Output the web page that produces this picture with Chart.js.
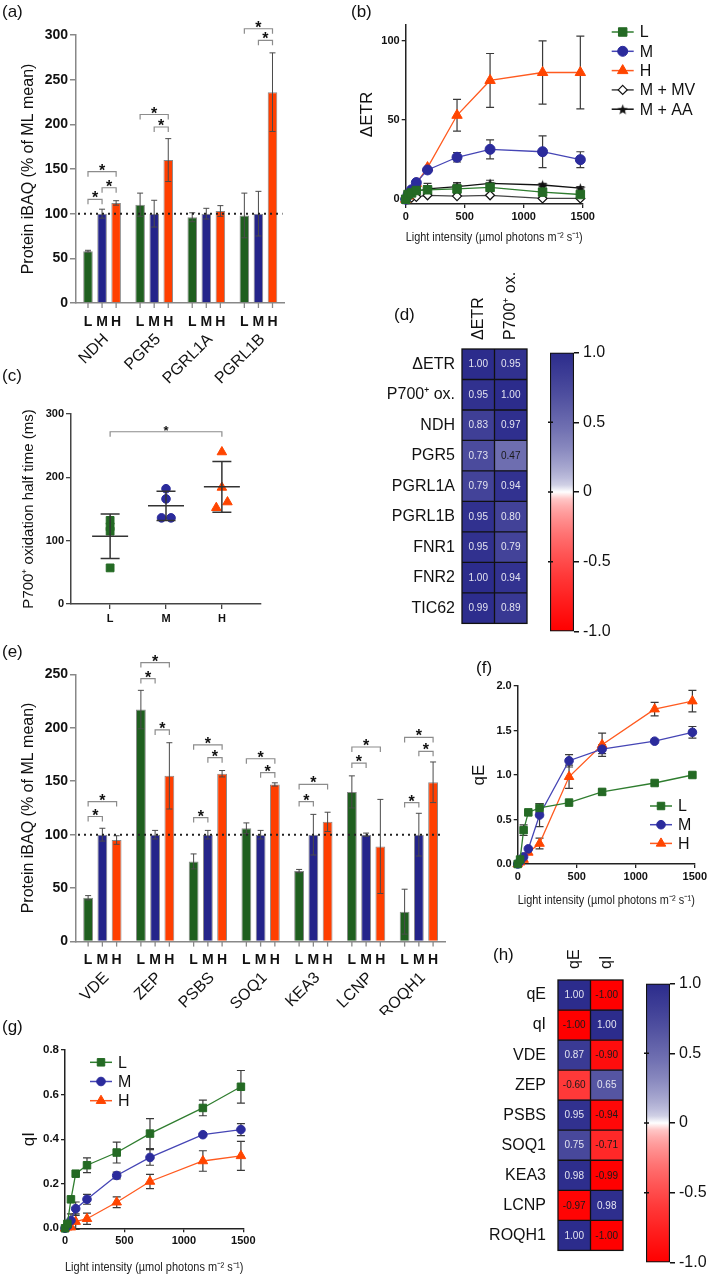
<!DOCTYPE html>
<html>
<head>
<meta charset="utf-8">
<title>Light acclimation panels</title>
<script src="https://cdn.jsdelivr.net/npm/chart.js@4.4.1/dist/chart.umd.min.js"></script>
<style>
  body { margin:0; background:#fff; }
  #page { position:relative; width:709px; height:1277px; overflow:hidden; font-family:'Liberation Sans', Arial, sans-serif; color:#111; }
  canvas { position:absolute; }
  .tag { position:absolute; font-size:17px; line-height:1; }
</style>
</head>
<body>
<div id="page">
  <canvas id="cA" width="300" height="390" style="left:0;top:10px"></canvas>
  <canvas id="cB" width="354" height="250" style="left:355px;top:0"></canvas>
  <canvas id="cC" width="300" height="240" style="left:0;top:395px"></canvas>
  <canvas id="cD" width="180" height="390" style="left:355px;top:250px"></canvas>
  <canvas id="cDbar" width="100" height="306" style="left:540px;top:339px"></canvas>
  <canvas id="cE" width="460" height="375" style="left:0;top:640px"></canvas>
  <canvas id="cF" width="249" height="250" style="left:460px;top:670px"></canvas>
  <canvas id="cG" width="260" height="247" style="left:0;top:1030px"></canvas>
  <canvas id="cH" width="195" height="347" style="left:440px;top:925px"></canvas>
  <canvas id="cHbar" width="73" height="306" style="left:636px;top:970px"></canvas>
  <div class="tag" style="left:2px;top:3px">(a)</div>
  <div class="tag" style="left:351px;top:3px">(b)</div>
  <div class="tag" style="left:2px;top:367px">(c)</div>
  <div class="tag" style="left:394px;top:306px">(d)</div>
  <div class="tag" style="left:2px;top:643px">(e)</div>
  <div class="tag" style="left:476px;top:659px">(f)</div>
  <div class="tag" style="left:2px;top:1018px">(g)</div>
  <div class="tag" style="left:493px;top:946px">(h)</div>
</div>
<script>
// ---- data ----
var seriesNames = ["L", "M", "H"];

// (a) protein abundance, cyclic electron flow
var groupsA = ["NDH", "PGR5", "PGRL1A", "PGRL1B"];
var aL = [58, 110, 96, 98],    aLerr = [1, 13, 5, 25];
var aM = [100, 100, 100, 100], aMerr = [5, 15, 6, 25];
var aH = [112, 160, 103, 236], aHerr = [2.5, 24, 6, 44];
// [group, from series, to series, height]
var sigA = [[0,0,1,116],[0,1,2,129],[0,0,2,147],[1,1,2,197],[1,0,2,211],[3,1,2,294],[3,0,2,307]];

// (e) protein abundance, photoprotection
var groupsE = ["VDE", "ZEP", "PSBS", "SOQ1", "KEA3", "LCNP", "ROQH1"];
var eL = [41, 217, 75, 106, 66, 140, 28],       eLerr = [2, 18, 7, 5, 1.5, 15, 21];
var eM = [100, 100, 100, 100, 100, 100, 100],   eMerr = [6, 4, 4, 4, 19, 1.5, 20];
var eH = [95, 155, 157, 147, 112, 89, 149],     eHerr = [4, 31, 3, 1.5, 9, 44, 19];
var sigE = [[0,0,1,117],[0,0,2,131],[1,1,2,198],[1,0,1,246],[1,0,2,261],[2,0,1,116],[2,1,2,172],
            [2,0,2,184],[3,1,2,158],[3,0,2,171],[4,0,1,131],[4,0,2,147],[5,0,1,167],[5,0,2,182],
            [6,0,1,130],[6,1,2,178],[6,0,2,191]];

// light steps (µmol photons m-2 s-1)
var lightX = [0, 20, 50, 90, 185, 435, 715, 1160, 1480];

// (b) delta ETR
var bL  = [0, 3, 4, 5.5, 6, 6.5, 7.5, 4.5, 3],      bLerr  = [0, 0, 0, 1, 2.5, 3, 2.5, 2, 1.5];
var bM  = [0, 3, 6, 10.5, 18.5, 26.5, 31.5, 30, 25], bMerr  = [0, 0, 0, 0, 0, 3, 6, 10, 5];
var bH  = [0, 2, 5, 10, 20, 53, 75, 80, 80],          bHerr  = [0, 0, 0, 0, 0, 10, 17, 20, 23];
var bMV = [0, 0.5, 1, 1.5, 2.5, 2, 2.5, 0.5, 0.5];
var bAA = [0, 2, 4, 5, 6.5, 8, 10, 9, 7],             bAAerr = [0, 0, 0, 0, 3.5, 2.5, 2, 1, 1];

// (c) P700+ oxidation half time (ms)
var cCats = ["L", "M", "H"];
var cL = [132, 122, 115, 57], cM = [182, 166, 136, 136], cH = [240, 184, 152, 161];
var cJit = [[0, 0, 0, 0], [0, 0, -0.08, 0.09], [0, 0, -0.1, 0.1]];
var cMean = [107, 155, 185], cSd = [35, 23, 40];

// (d) correlations
var dRows = ["\u0394ETR", "P700\u207A ox.", "NDH", "PGR5", "PGRL1A", "PGRL1B", "FNR1", "FNR2", "TIC62"];
var dCols = ["\u0394ETR", "P700\u207A ox."];
var dVals = [[1.00,0.95],[0.95,1.00],[0.83,0.97],[0.73,0.47],[0.79,0.94],[0.95,0.80],[0.95,0.79],[1.00,0.94],[0.99,0.89]];

// (f) qE
var fL = [0, 0.05, 0.38, 0.58, 0.63, 0.69, 0.81, 0.91, 1.00], fLerr = [0, 0, 0.06, 0, 0.05, 0, 0.03, 0, 0];
var fM = [0, 0.03, 0.08, 0.17, 0.55, 1.16, 1.29, 1.38, 1.48], fMerr = [0, 0, 0, 0, 0.13, 0.07, 0.05, 0, 0.065];
var fH = [0, 0.02, 0.05, 0.13, 0.23, 0.98, 1.34, 1.74, 1.83], fHerr = [0, 0, 0, 0, 0.06, 0.13, 0.13, 0.075, 0.12];

// (g) qI
var gL = [0, 0.02, 0.13, 0.245, 0.283, 0.34, 0.425, 0.54, 0.635], gLerr = [0, 0, 0, 0, 0.033, 0.047, 0.067, 0.035, 0.073];
var gM = [0, 0.01, 0.035, 0.088, 0.13, 0.237, 0.318, 0.42, 0.443], gMerr = [0, 0, 0.03, 0.03, 0.022, 0.015, 0.035, 0, 0.027];
var gH = [0, 0.005, 0.005, 0.03, 0.043, 0.117, 0.21, 0.302, 0.325], gHerr = [0, 0, 0, 0.035, 0.025, 0.024, 0.032, 0.046, 0.065];

// (h) correlations
var hRows = ["qE", "qI", "VDE", "ZEP", "PSBS", "SOQ1", "KEA3", "LCNP", "ROQH1"];
var hCols = ["qE", "qI"];
var hVals = [[1.00,-1.00],[-1.00,1.00],[0.87,-0.90],[-0.60,0.65],[0.95,-0.94],[0.75,-0.71],[0.98,-0.99],[-0.97,0.98],[1.00,-1.00]];

var barTicks = [-1, -0.5, 0, 0.5, 1];

// ---- styling ----
var FONT = "'Liberation Sans', Arial, sans-serif";
Chart.defaults.font.family = FONT;
Chart.defaults.color = '#111';
Chart.defaults.animation = false;

var barColors = ["#1f5f1f", "#24248a", "#ff3f00"];
var ptColors  = ["#246a24", "#2b2b9c", "#ff4500"];
var lnColors  = ["#2f7d2f", "#4545b5", "#ff5a1f"];
var LIGHT_TITLE = "Light intensity (\u00B5mol photons m\u207B\u00B2 s\u207B\u00B9)";
var NAVY = [44, 44, 140], RED = [255, 0, 0];

function heatColor(v) {
  var t = Math.pow(Math.min(1, Math.abs(v)), 0.5), c = v >= 0 ? NAVY : RED;
  return 'rgb(' + [0, 1, 2].map(function (k) { return Math.round(255 + (c[k] - 255) * t); }).join(',') + ')';
}
function fixW(w) { return function (s) { s.width = w; }; }
function fixH(h) { return function (s) { s.height = h; }; }
function setTicks(vals) { return function (s) { s.ticks = vals.map(function (v) { return { value: v }; }); }; }
function plain(v) { return String(v); }

function starImg(size, color) {
  var c = document.createElement('canvas');
  c.width = c.height = size;
  var x = c.getContext('2d');
  x.fillStyle = color;
  x.beginPath();
  for (var i = 0; i < 10; i++) {
    var r = i % 2 ? size * 0.21 : size * 0.5, a = -Math.PI / 2 + i * Math.PI / 5;
    x.lineTo(size / 2 + r * Math.cos(a), size / 2 + 0.6 + r * Math.sin(a));
  }
  x.closePath();
  x.fill();
  return c;
}

function drawMarker(ctx, ds, x, y) {
  var st = ds.pointStyle, r = ds.pointRadius;
  if (st instanceof HTMLCanvasElement) { ctx.drawImage(st, x - st.width / 2, y - st.height / 2); return; }
  ctx.fillStyle = ds.pointBackgroundColor;
  ctx.strokeStyle = ds.pointBorderColor;
  ctx.lineWidth = ds.pointBorderWidth || 1;
  ctx.beginPath();
  if (st === 'rect') { var s = r * Math.SQRT1_2; ctx.rect(x - s, y - s, 2 * s, 2 * s); }
  else if (st === 'rectRot') { ctx.moveTo(x, y - r); ctx.lineTo(x + r, y); ctx.lineTo(x, y + r); ctx.lineTo(x - r, y); ctx.closePath(); }
  else if (st === 'triangle') {
    for (var k = 0; k < 3; k++) { var a = -Math.PI / 2 + k * 2 * Math.PI / 3; ctx.lineTo(x + r * Math.cos(a), y + r * Math.sin(a)); }
    ctx.closePath();
  }
  else ctx.arc(x, y, r, 0, 2 * Math.PI);
  ctx.fill();
  ctx.stroke();
}

function drawStar(ctx, x, y, size) {
  ctx.fillStyle = '#111';
  ctx.font = 'bold ' + size + 'px ' + FONT;
  ctx.textAlign = 'center';
  ctx.textBaseline = 'alphabetic';
  ctx.fillText('*', x, y);
}

// ---- bar panels (a), (e) ----
function barExtras(errs, sigs) {
  return {
    id: 'barExtras',
    afterDatasetsDraw: function (chart) {
      var ctx = chart.ctx, ys = chart.scales.y, area = chart.chartArea;
      ctx.save();
      chart.data.datasets.forEach(function (ds, s) {
        chart.getDatasetMeta(s).data.forEach(function (bar, i) {
          var v = ds.data[i], e = errs[s][i], x = bar.x;
          var y1 = ys.getPixelForValue(v + e), y2 = ys.getPixelForValue(v - e);
          ctx.strokeStyle = '#4a4a4a';
          ctx.lineWidth = 1;
          ctx.beginPath();
          ctx.moveTo(x, y1); ctx.lineTo(x, y2);
          ctx.moveTo(x - 3, y1); ctx.lineTo(x + 3, y1);
          ctx.moveTo(x - 3, y2); ctx.lineTo(x + 3, y2);
          ctx.stroke();
          // tick + series letter under every bar
          ctx.strokeStyle = '#888';
          ctx.lineWidth = 1.3;
          ctx.beginPath(); ctx.moveTo(x, area.bottom); ctx.lineTo(x, area.bottom + 5); ctx.stroke();
          ctx.fillStyle = '#111';
          ctx.font = 'bold 14px ' + FONT;
          ctx.textAlign = 'center';
          ctx.textBaseline = 'middle';
          ctx.fillText(ds.label, x, area.bottom + 19);
        });
      });
      // dotted 100 % line
      var y100 = ys.getPixelForValue(100);
      ctx.strokeStyle = '#222';
      ctx.lineWidth = 2;
      ctx.setLineDash([2, 4]);
      ctx.beginPath(); ctx.moveTo(area.left + 2, y100); ctx.lineTo(area.right - 2, y100); ctx.stroke();
      ctx.setLineDash([]);
      // significance brackets
      sigs.forEach(function (s) {
        var m = chart.getDatasetMeta(s[1]).data[s[0]], n = chart.getDatasetMeta(s[2]).data[s[0]];
        var yy = ys.getPixelForValue(s[3]);
        ctx.strokeStyle = '#8c8c8c';
        ctx.lineWidth = 1.2;
        ctx.beginPath();
        ctx.moveTo(m.x, yy + 5); ctx.lineTo(m.x, yy); ctx.lineTo(n.x, yy); ctx.lineTo(n.x, yy + 5);
        ctx.stroke();
        drawStar(ctx, (m.x + n.x) / 2, yy + 4, 16);
      });
      ctx.restore();
    }
  };
}

function barChart(id, groups, vals, errs, sigs, ymax, cfg) {
  return new Chart(document.getElementById(id), {
    type: 'bar',
    data: {
      labels: groups,
      datasets: seriesNames.map(function (n, s) {
        return { label: n, data: vals[s], backgroundColor: barColors[s], borderColor: '#8a8a8a', borderWidth: 1,
                 categoryPercentage: cfg.cp, barPercentage: cfg.bp };
      })
    },
    options: {
      responsive: false,
      layout: { padding: cfg.pad },
      plugins: { legend: { display: false }, tooltip: { enabled: false } },
      scales: {
        x: {
          afterFit: fixH(cfg.xH),
          grid: { display: false, drawTicks: false },
          border: { color: '#888', width: 1.5 },
          ticks: { autoSkip: false, minRotation: 45, maxRotation: 45, padding: 27, labelOffset: 4,
                   font: { size: 16 }, color: '#111' }
        },
        y: {
          min: 0, max: ymax,
          afterFit: fixW(76),
          ticks: { stepSize: 50, padding: 2, font: { size: 14, weight: 'bold' }, color: '#111' },
          grid: { drawOnChartArea: false, tickLength: 6, color: '#888', lineWidth: 1.5 },
          border: { color: '#888', width: 1.5 },
          title: { display: true, text: 'Protein iBAQ (% of ML mean)', font: { size: 16 }, color: '#111', padding: { top: 19 } }
        }
      }
    },
    plugins: [barExtras(errs, sigs)]
  });
}

barChart('cA', groupsA, [aL, aM, aH], [aLerr, aMerr, aHerr], sigA, 300,
  { cp: 0.81, bp: 0.68, xH: 97, pad: { top: 25, right: 8, left: 0, bottom: 0 } });
barChart('cE', groupsE, [eL, eM, eH], [eLerr, eMerr, eHerr], sigE, 250,
  { cp: 0.81, bp: 0.69, xH: 73.4, pad: { top: 34.3, right: 8, left: 0, bottom: 0 } });

// ---- line panels (b), (f), (g) ----
var errPlugin = {
  id: 'errbars',
  beforeDatasetsDraw: function (chart) {
    var ctx = chart.ctx, ys = chart.scales.y;
    ctx.save();
    ctx.strokeStyle = '#3a3a3a';
    ctx.lineWidth = 1.2;
    chart.data.datasets.forEach(function (ds, k) {
      if (!ds.err) return;
      chart.getDatasetMeta(k).data.forEach(function (pt, i) {
        var e = ds.err[i];
        if (!e) return;
        var v = ds.data[i].y, y1 = ys.getPixelForValue(v + e), y2 = ys.getPixelForValue(v - e);
        ctx.beginPath();
        ctx.moveTo(pt.x, y1); ctx.lineTo(pt.x, y2);
        ctx.moveTo(pt.x - 4, y1); ctx.lineTo(pt.x + 4, y1);
        ctx.moveTo(pt.x - 4, y2); ctx.lineTo(pt.x + 4, y2);
        ctx.stroke();
      });
    });
    ctx.restore();
  }
};

function legendAt(x, y, dy, size) {
  return {
    id: 'legendAt',
    afterDatasetsDraw: function (chart) {
      var ctx = chart.ctx;
      ctx.save();
      chart.data.datasets.forEach(function (ds, k) {
        var yy = y + k * dy;
        ctx.strokeStyle = ds.borderColor;
        ctx.lineWidth = 1.5;
        ctx.beginPath(); ctx.moveTo(x, yy); ctx.lineTo(x + 22, yy); ctx.stroke();
        drawMarker(ctx, ds, x + 11, yy);
        ctx.fillStyle = '#111';
        ctx.font = size + 'px ' + FONT;
        ctx.textAlign = 'left';
        ctx.textBaseline = 'middle';
        ctx.fillText(ds.label, x + 28, yy + 1);
      });
      ctx.restore();
    }
  };
}

function series(label, ys, err, k, style, r) {
  return { label: label, y: ys, err: err, line: lnColors[k], fill: ptColors[k], edge: ptColors[k], style: style, r: r };
}

function lineChart(id, list, cfg) {
  return new Chart(document.getElementById(id), {
    type: 'line',
    data: {
      datasets: list.map(function (s) {
        return {
          label: s.label,
          data: lightX.map(function (x, i) { return { x: x, y: s.y[i] }; }),
          err: s.err, borderColor: s.line, borderWidth: 1.3, tension: 0, clip: false,
          pointStyle: s.style, pointRadius: s.r, pointBackgroundColor: s.fill,
          pointBorderColor: s.edge, pointBorderWidth: s.bw || 1
        };
      })
    },
    options: {
      responsive: false,
      layout: { padding: cfg.pad },
      plugins: { legend: { display: false }, tooltip: { enabled: false } },
      scales: {
        x: {
          type: 'linear', min: 0, max: 1500,
          afterFit: fixH(cfg.xH), afterBuildTicks: setTicks([0, 500, 1000, 1500]),
          grid: { drawOnChartArea: false, tickLength: 4, color: '#222', lineWidth: 1.3 },
          border: { color: '#222', width: 1.5 },
          ticks: { padding: 2, font: { size: 11, weight: 'bold' }, color: '#111', callback: plain },
          title: { display: true, text: LIGHT_TITLE, font: { size: 13 }, color: '#222', padding: { bottom: cfg.xtp } }
        },
        y: {
          min: cfg.ymin, max: cfg.ymax,
          afterFit: fixW(cfg.yW), afterBuildTicks: setTicks(cfg.yticks),
          grid: { drawOnChartArea: false, tickLength: 4, color: '#222', lineWidth: 1.3 },
          border: { color: '#222', width: 1.5 },
          ticks: { padding: 2, font: { size: cfg.yfs, weight: 'bold' }, color: '#111', callback: cfg.fmt },
          title: { display: true, text: cfg.ytitle, font: { size: 17 }, color: '#111', padding: { top: cfg.ytp } }
        }
      }
    },
    plugins: [errPlugin, legendAt(cfg.legend[0], cfg.legend[1], cfg.legend[2], 16)]
  });
}

var star = starImg(11, '#111');
var mv = { label: 'M + MV', y: bMV, err: null, line: '#444', fill: '#fff', edge: '#111', bw: 1.2, style: 'rectRot', r: 4.5 };
var aa = { label: 'M + AA', y: bAA, err: bAAerr, line: '#111', fill: '#111', edge: '#111', style: star, r: 5 };

lineChart('cB', [series('L', bL, bLerr, 0, 'rect', 6), series('M', bM, bMerr, 1, 'circle', 5),
                 series('H', bH, bHerr, 2, 'triangle', 6), mv, aa],
  { pad: { top: 25, right: 126.3, left: 0, bottom: 0 }, xH: 46, yW: 50.7, ymin: -3, ymax: 110,
    yticks: [0, 50, 100], fmt: plain, yfs: 11, ytitle: '\u0394ETR', ytp: 2, xtp: 5,
    legend: [256.7, 32, 19.3] });

var one = function (v) { return v.toFixed(1); };
lineChart('cF', [series('L', fL, fLerr, 0, 'rect', 5.3), series('M', fM, fMerr, 1, 'circle', 4.3),
                 series('H', fH, fHerr, 2, 'triangle', 5.5)],
  { pad: { top: 16, right: 13, left: 0, bottom: 0 }, xH: 56, yW: 57.7, ymin: 0, ymax: 2,
    yticks: [0, 0.5, 1, 1.5, 2], fmt: one, yfs: 11, ytitle: 'qE', ytp: 9, xtp: 12,
    legend: [190, 136, 18.7] });

lineChart('cG', [series('L', gL, gLerr, 0, 'rect', 5.3), series('M', gM, gMerr, 1, 'circle', 4.3),
                 series('H', gH, gHerr, 2, 'triangle', 5.5)],
  { pad: { top: 20, right: 16.7, left: 0, bottom: 0 }, xH: 48.7, yW: 65, ymin: 0, ymax: 0.8,
    yticks: [0, 0.2, 0.4, 0.6, 0.8], fmt: one, yfs: 11.5, ytitle: 'qI', ytp: 19, xtp: 2,
    legend: [90, 32.3, 19.2] });

// ---- (c) scatter with mean and SD ----
var cStyles = ['rect', 'circle', 'triangle'], cRadius = [5.5, 4.3, 5.5];
var meanSd = {
  id: 'meanSd',
  afterDatasetsDraw: function (chart) {
    var ctx = chart.ctx, xs = chart.scales.x, ys = chart.scales.y;
    ctx.save();
    ctx.strokeStyle = '#333';
    ctx.lineWidth = 1.5;
    cMean.forEach(function (m, i) {
      var x = xs.getPixelForValue(i + 1), w = 18, c = 9.5;
      var ym = ys.getPixelForValue(m), yt = ys.getPixelForValue(m + cSd[i]), yb = ys.getPixelForValue(m - cSd[i]);
      ctx.beginPath();
      ctx.moveTo(x - w, ym); ctx.lineTo(x + w, ym);
      ctx.moveTo(x, yt); ctx.lineTo(x, yb);
      ctx.moveTo(x - c, yt); ctx.lineTo(x + c, yt);
      ctx.moveTo(x - c, yb); ctx.lineTo(x + c, yb);
      ctx.stroke();
    });
    var x1 = xs.getPixelForValue(1), x3 = xs.getPixelForValue(3), yb = ys.getPixelForValue(272);
    ctx.strokeStyle = '#8c8c8c';
    ctx.lineWidth = 1.2;
    ctx.beginPath();
    ctx.moveTo(x1, yb + 5); ctx.lineTo(x1, yb); ctx.lineTo(x3, yb); ctx.lineTo(x3, yb + 5);
    ctx.stroke();
    drawStar(ctx, (x1 + x3) / 2, yb + 3, 13);
    ctx.restore();
  }
};

new Chart(document.getElementById('cC'), {
  type: 'scatter',
  data: {
    datasets: [cL, cM, cH].map(function (vals, k) {
      return {
        label: cCats[k],
        data: vals.map(function (v, i) { return { x: k + 1 + cJit[k][i], y: v }; }),
        pointStyle: cStyles[k], pointRadius: cRadius[k],
        backgroundColor: ptColors[k], borderColor: ptColors[k], clip: false
      };
    })
  },
  options: {
    responsive: false,
    layout: { padding: { top: 19, right: 39, left: 0, bottom: 0 } },
    plugins: { legend: { display: false }, tooltip: { enabled: false } },
    scales: {
      x: {
        type: 'linear', min: 0.3, max: 3.7,
        afterFit: fixH(31), afterBuildTicks: setTicks([1, 2, 3]),
        grid: { drawOnChartArea: false, tickLength: 5, color: '#444', lineWidth: 1.3 },
        border: { color: '#444', width: 1.5 },
        ticks: { padding: 3, font: { size: 11, weight: 'bold' }, color: '#111',
                 callback: function (v) { return cCats[v - 1] || ''; } }
      },
      y: {
        min: 0, max: 300,
        afterFit: fixW(71), afterBuildTicks: setTicks([0, 100, 200, 300]),
        grid: { drawOnChartArea: false, tickLength: 5, color: '#444', lineWidth: 1.3 },
        border: { color: '#444', width: 1.5 },
        ticks: { padding: 2, font: { size: 11, weight: 'bold' }, color: '#111' },
        title: { display: true, text: 'P700\u207A oxidation half time (ms)', font: { size: 15 }, color: '#111', padding: { top: 20 } }
      }
    }
  },
  plugins: [meanSd]
});

// ---- heatmaps (d), (h) ----
function heatPlugin(cols, vals, gap) {
  return {
    id: 'heat',
    afterDatasetsDraw: function (chart) {
      var ctx = chart.ctx, a = chart.chartArea, xs = chart.scales.x, n = chart.data.labels.length;
      ctx.save();
      ctx.textAlign = 'center';
      ctx.textBaseline = 'middle';
      ctx.font = '10px ' + FONT;
      chart.data.datasets.forEach(function (ds, j) {
        chart.getDatasetMeta(j).data.forEach(function (cell, i) {
          var v = vals[i][j], p = cell.getCenterPoint();
          ctx.fillStyle = v > 0.55 ? '#e4e4f0' : '#1a1a1a';
          ctx.fillText(v.toFixed(2), p.x, p.y + 0.5);
        });
      });
      ctx.strokeStyle = '#111';
      ctx.lineWidth = 1.3;
      ctx.strokeRect(a.left, a.top, a.right - a.left, a.bottom - a.top);
      ctx.beginPath();
      for (var j = 1; j < cols.length; j++) { var x = xs.getPixelForValue(j); ctx.moveTo(x, a.top); ctx.lineTo(x, a.bottom); }
      for (var i = 1; i < n; i++) { var y = a.top + (a.bottom - a.top) * i / n; ctx.moveTo(a.left, y); ctx.lineTo(a.right, y); }
      ctx.stroke();
      ctx.font = '16px ' + FONT;
      ctx.fillStyle = '#111';
      ctx.textAlign = 'left';
      cols.forEach(function (c, j) {
        ctx.save();
        ctx.translate(xs.getPixelForValue(j + 0.5), a.top - gap);
        ctx.rotate(-Math.PI / 2);
        ctx.fillText(c, 0, 0);
        ctx.restore();
      });
      ctx.restore();
    }
  };
}

function heatmap(id, rows, cols, vals, cfg) {
  return new Chart(document.getElementById(id), {
    type: 'bar',
    data: {
      labels: rows,
      datasets: cols.map(function (c, j) {
        return {
          label: c,
          data: rows.map(function () { return [j, j + 1]; }),
          backgroundColor: vals.map(function (r) { return heatColor(r[j]); }),
          borderWidth: 0, barPercentage: 1, categoryPercentage: 1, grouped: false
        };
      })
    },
    options: {
      indexAxis: 'y',
      responsive: false,
      layout: { padding: cfg.pad },
      plugins: { legend: { display: false }, tooltip: { enabled: false } },
      scales: {
        x: { type: 'linear', min: 0, max: cols.length, display: false },
        y: {
          afterFit: fixW(cfg.yW),
          grid: { display: false, drawTicks: false },
          border: { display: false },
          ticks: { padding: cfg.lp, font: { size: 16 }, color: '#111' }
        }
      }
    },
    plugins: [heatPlugin(cols, vals, cfg.gap)]
  });
}

var innerTicks = {
  id: 'innerTicks',
  afterDatasetsDraw: function (chart) {
    var ctx = chart.ctx, a = chart.chartArea, ys = chart.scales.y;
    ctx.save();
    ctx.strokeStyle = '#111';
    ctx.lineWidth = 1.5;
    ctx.beginPath();
    [0.5, 0, -0.5].forEach(function (v) {
      var y = ys.getPixelForValue(v);
      ctx.moveTo(a.left - 2, y); ctx.lineTo(a.left + 3, y);
    });
    ctx.stroke();
    ctx.restore();
  }
};

function colorBar(id, cfg) {
  return new Chart(document.getElementById(id), {
    type: 'bar',
    data: {
      labels: [''],
      datasets: [{
        data: [[-1, 1]],
        backgroundColor: function (c) {
          var ch = c.chart;
          if (!ch.chartArea) return '#fff';
          var ys = ch.scales.y;
          var g = ch.ctx.createLinearGradient(0, ys.getPixelForValue(1), 0, ys.getPixelForValue(-1));
          for (var k = 0; k <= 40; k++) g.addColorStop(k / 40, heatColor(1 - k / 20));
          return g;
        },
        borderColor: '#111', borderWidth: 1.5, borderSkipped: false,
        barPercentage: 1, categoryPercentage: 1
      }]
    },
    options: {
      responsive: false,
      layout: { padding: cfg.pad },
      plugins: { legend: { display: false }, tooltip: { enabled: false } },
      scales: {
        x: { display: false },
        y: {
          position: 'right', min: -1, max: 1,
          afterFit: fixW(cfg.yW), afterBuildTicks: setTicks(barTicks),
          grid: { drawOnChartArea: false, tickLength: 5, color: '#111', lineWidth: 1.5 },
          border: { display: false },
          ticks: { padding: 4, font: { size: 16 }, color: '#111',
                   callback: function (v) { return v === 0 ? '0' : v.toFixed(1); } }
        }
      }
    },
    plugins: [innerTicks]
  });
}

heatmap('cD', dRows, dCols, dVals, { pad: { top: 99, right: 8, bottom: 5, left: 0 }, yW: 107, lp: 7, gap: 9 });
colorBar('cDbar', { pad: { top: 10, right: 0, bottom: 10, left: 10 }, yW: 66 });
heatmap('cH', hRows, hCols, hVals, { pad: { top: 55, right: 12, bottom: 6, left: 0 }, yW: 118, lp: 12, gap: 11 });
colorBar('cHbar', { pad: { top: 10, right: 0, bottom: 10, left: 10 }, yW: 39 });
</script>
</body>
</html>
